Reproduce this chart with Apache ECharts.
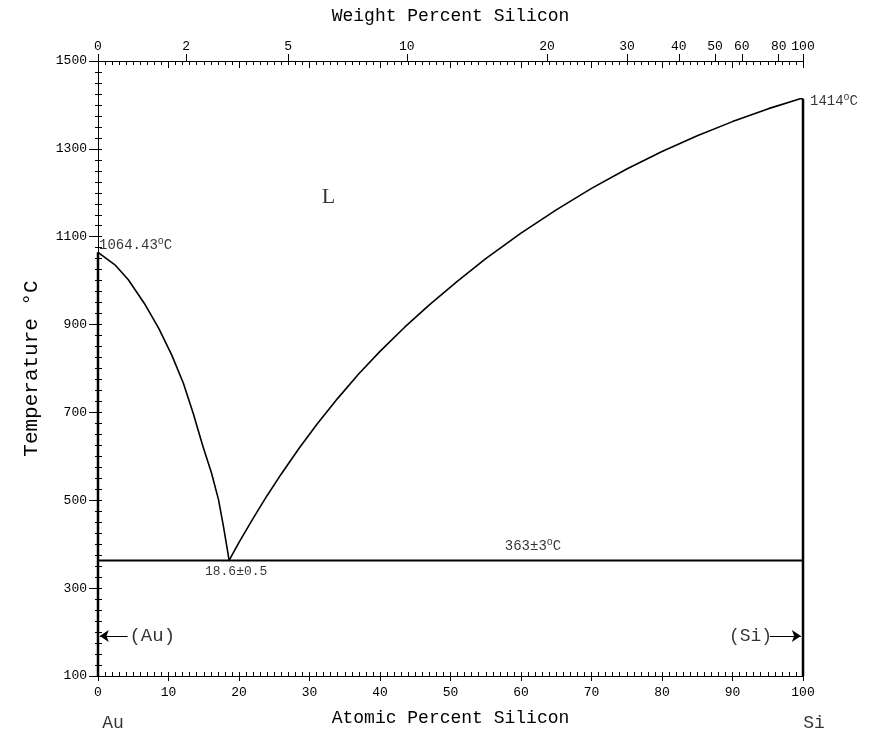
<!DOCTYPE html>
<html>
<head>
<meta charset="utf-8">
<script src="https://cdn.jsdelivr.net/npm/echarts@6/dist/echarts.min.js"></script>
<style>html,body{margin:0;padding:0;background:#fff}#c{width:871px;height:734px}</style>
</head>
<body>
<div id="c"></div>
<script>
// ---- data ----
const atomicTicks = [0,10,20,30,40,50,60,70,80,90,100];
const tempTicks = [100,300,500,700,900,1100,1300,1500];
const weightTicks = [0,2,5,10,20,30,40,50,60,80,100];
const leftLiquidus = [[0,1064.43],[2.4,1036],[4.3,1002],[6.7,945],[8.6,892],[10.45,831],[12.1,767],[13.5,698],[14.9,622],[16.1,562],[17.1,501],[17.8,440],[18.6,363]];
const rightLiquidus = [[18.6,363],[20,404],[22,459],[24,511],[26,560],[28.5,618],[31,672],[34,732],[37,788],[40,839],[43.5,894],[47,945],[51,999],[55,1050],[60,1108],[65,1161],[70,1210],[75,1254],[80,1294],[85,1330],[90,1362],[95,1391],[99.6,1414],[100,1414]];
const eutecticLine = [[0,363],[100,363]];
const auSolid = [[0,100],[0,1064.43]];
const siSolid = [[100,100],[100,1414]];
const meltAu = 1064.43, meltSi = 1414, eutT = 363, eutX = 18.6;
const massAu = 196.967, massSi = 28.086;

function wtToAt(w){
  if (w >= 100) return 100;
  const a = w / massSi, b = (100 - w) / massAu;
  return a / (a + b) * 100;
}
const weightPos = weightTicks.map(wtToAt);

const FONT = 'Liberation Mono';
const chart = echarts.init(document.getElementById('c'));
const base = {min:0, max:100, splitLine:{show:false}};
const ybase = {type:'value', min:100, max:1500, splitLine:{show:false}};
chart.setOption({
  animation:false,
  backgroundColor:'#fff',
  grid:{left:98, right:68, top:61, bottom:58},
  xAxis:[
    Object.assign({type:'value', position:'bottom', interval:10,
      axisLine:{show:true, lineStyle:{color:'#000', width:1}},
      axisTick:{show:true, length:5, customValues:atomicTicks, lineStyle:{color:'#000'}},
      axisLabel:{color:'#000', fontFamily:FONT, fontSize:13, margin:10, customValues:atomicTicks},
      name:'Atomic Percent Silicon', nameLocation:'middle', nameGap:33,
      nameTextStyle:{color:'#000', fontFamily:FONT, fontSize:18}}, base),
    Object.assign({type:'value', position:'bottom', interval:1,
      axisLine:{show:false}, axisTick:{show:true, inside:true, length:4, lineStyle:{color:'#000'}},
      axisLabel:{show:false}}, base),
    Object.assign({type:'value', position:'top', interval:1,
      axisLine:{show:true, lineStyle:{color:'#000', width:1}},
      axisTick:{show:true, inside:true, length:4, lineStyle:{color:'#000'}},
      axisLabel:{show:false}}, base),
    Object.assign({type:'value', position:'top', interval:10,
      axisLine:{show:false}, axisTick:{show:true, inside:true, length:7, lineStyle:{color:'#000'}},
      axisLabel:{show:false}}, base),
    Object.assign({type:'value', position:'top',
      axisLine:{show:false},
      axisTick:{show:true, length:7, customValues:weightPos, lineStyle:{color:'#000'}},
      axisLabel:{show:true, customValues:weightPos, color:'#000', fontFamily:FONT, fontSize:13, margin:8,
        formatter:function(v){
          let best=0, d=1e9;
          weightPos.forEach(function(p,i){ if(Math.abs(p-v)<d){d=Math.abs(p-v);best=i;} });
          return String(weightTicks[best]);
        }},
      name:'Weight Percent Silicon', nameLocation:'middle', nameGap:36,
      nameTextStyle:{color:'#000', fontFamily:FONT, fontSize:18}}, base)
  ],
  yAxis:[
    Object.assign({position:'left', interval:100,
      axisLine:{show:true, lineStyle:{color:'#000', width:1}},
      axisTick:{show:true, length:9, customValues:tempTicks, lineStyle:{color:'#000'}},
      axisLabel:{show:true, customValues:tempTicks, color:'#000', fontFamily:FONT, fontSize:13, margin:11,
        formatter:function(v){ return String(v); }},
      name:'Temperature °C', nameLocation:'middle', nameGap:56, nameRotate:90,
      nameTextStyle:{color:'#000', fontFamily:FONT, fontSize:21}}, ybase),
    Object.assign({position:'left', interval:25,
      axisLine:{show:false}, axisTick:{show:true, length:3, lineStyle:{color:'#000'}},
      axisLabel:{show:false}}, ybase),
    Object.assign({position:'right', interval:25,
      axisLine:{show:true, lineStyle:{color:'#000', width:1}},
      axisTick:{show:true, length:4, lineStyle:{color:'#000'}},
      axisLabel:{show:false}}, ybase)
  ],
  series:[
    {type:'line', data:leftLiquidus, showSymbol:false, lineStyle:{color:'#000', width:1.6}, silent:true},
    {type:'line', data:rightLiquidus, showSymbol:false, lineStyle:{color:'#000', width:1.6}, silent:true},
    {type:'line', data:eutecticLine, showSymbol:false, lineStyle:{color:'#000', width:2}, silent:true},
    {type:'line', data:auSolid, showSymbol:false, lineStyle:{color:'#000', width:2.5}, silent:true},
    {type:'line', data:siSolid, showSymbol:false, lineStyle:{color:'#000', width:2.5}, silent:true},
    {type:'lines', coordinateSystem:'cartesian2d', silent:true,
      symbol:['none','arrow'], symbolSize:9,
      lineStyle:{color:'#000', width:1, opacity:1},
      data:[{coords:[[4.2,191],[0.25,191]]},{coords:[[95.3,191],[99.7,191]]}]},
    {type:'scatter', symbolSize:0, silent:true, clip:false,
      label:{show:true, color:'#000', fontFamily:FONT, fontSize:14,
        rich:{sup:{fontFamily:FONT, fontSize:10, verticalAlign:'top', padding:[0,0,8,0], color:'#000'},
              n:{fontFamily:FONT, fontSize:14, color:'#000'}}},
      data:[
        {value:[0,meltAu], label:{position:'right', offset:[-4,-7], formatter:'{n|1064.43}{sup|o}{n|C}'}},
        {value:[100,meltSi], label:{position:'right', offset:[2,3], formatter:'{n|1414}{sup|o}{n|C}'}},
        {value:[61.7,eutT], label:{position:'top', offset:[0,0], formatter:'{n|363±3}{sup|o}{n|C}'}},
        {value:[eutX,eutT], label:{position:'bottom', offset:[7,0], fontSize:13, formatter:'18.6±0.5'}},
        {value:[32.7,1190], label:{position:'inside', fontSize:22, fontFamily:'Liberation Serif', formatter:'L'}},
        {value:[4.6,191], label:{position:'right', offset:[-6,0], fontSize:19, fontFamily:FONT, formatter:'(Au)'}},
        {value:[95.2,191], label:{position:'left', offset:[8,0], fontSize:18, fontFamily:FONT, formatter:'(Si)'}},
        {value:[0,100], label:{position:'bottom', offset:[15,33], fontSize:18, fontFamily:FONT, formatter:'Au'}},
        {value:[100,100], label:{position:'bottom', offset:[11,33], fontSize:18, fontFamily:FONT, formatter:'Si'}}
      ]}
  ]
});
</script>
</body>
</html>
